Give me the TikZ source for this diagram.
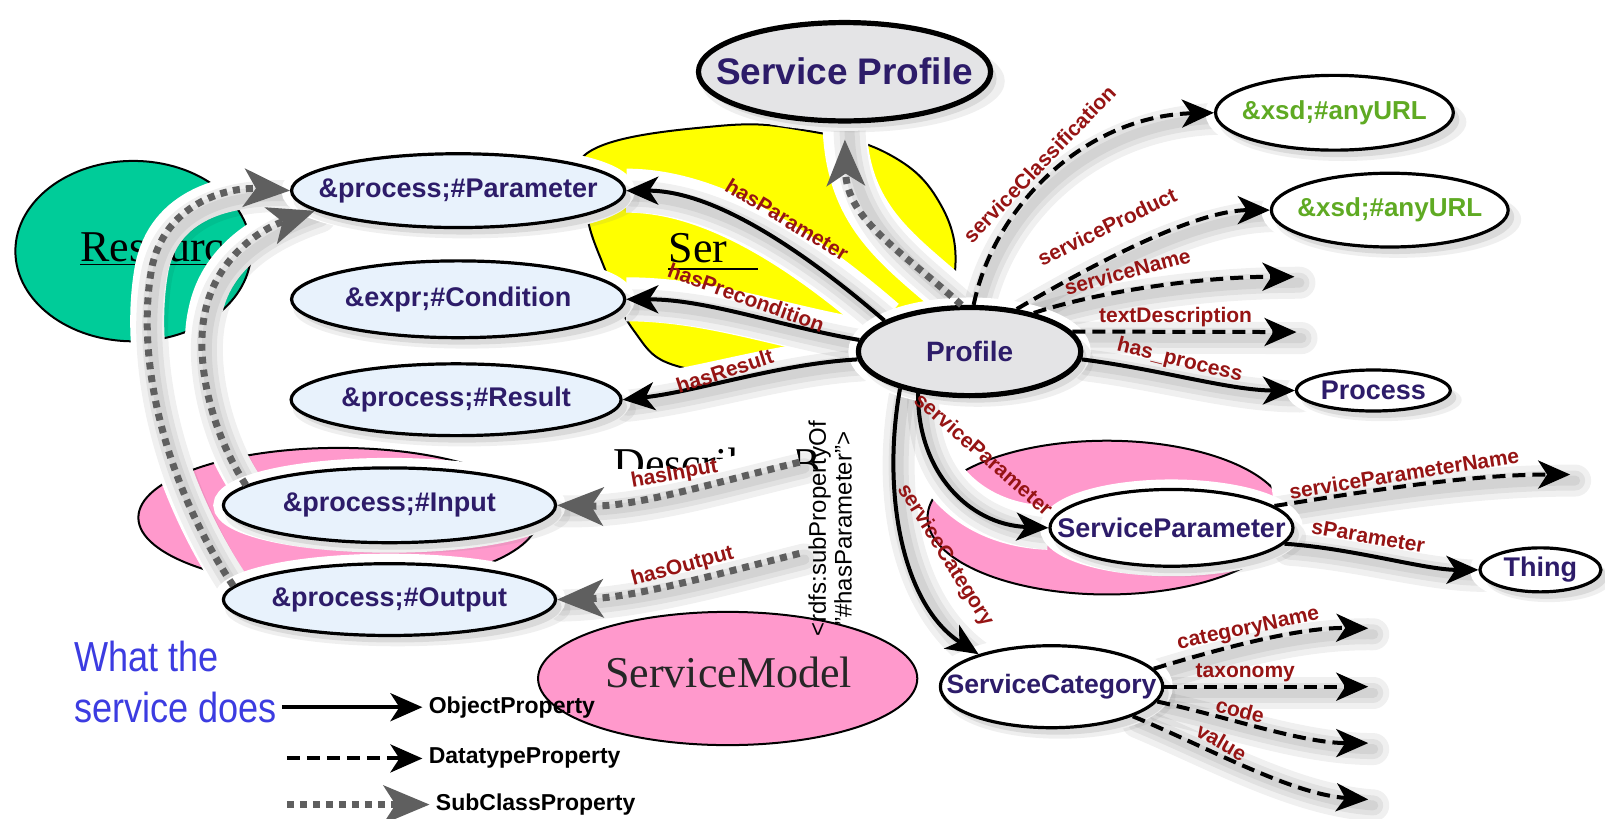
\documentclass[tikz,border=0pt]{standalone}
\usepackage{fontspec}
\setmainfont{Liberation Sans}
\newfontfamily\serifz{Liberation Serif}
\newfontfamily\narrowz[FakeStretch=0.86]{Liberation Sans}
\usetikzlibrary{arrows.meta,shapes.geometric,shadows}
\pgfdeclarelayer{blobs}
\pgfdeclarelayer{halos}
\pgfdeclarelayer{front}
\pgfsetlayers{blobs,halos,main,front}
\definecolor{navy}{RGB}{45,28,105}
\definecolor{lblred}{RGB}{150,20,20}
\definecolor{urlgreen}{RGB}{95,170,35}
\definecolor{lblue}{RGB}{232,242,252}
\definecolor{lgray}{RGB}{228,228,230}
\definecolor{blobgreen}{RGB}{0,204,153}
\definecolor{blobpink}{RGB}{255,153,204}
\definecolor{blobyellow}{RGB}{255,255,0}
\definecolor{wblue}{RGB}{60,60,225}
\definecolor{subgray}{RGB}{95,95,95}
\begin{document}
\begin{tikzpicture}[x=0.5125pt,y=-0.5125pt,
  ell/.style={ellipse, draw=black, line width=1.6pt, inner sep=0pt,
    preaction={draw=white, line width=10pt},
    drop shadow={opacity=0.12, shadow xshift=4pt, shadow yshift=-4.5pt, shadow scale=1.04},
    drop shadow={opacity=0.18, shadow xshift=3pt, shadow yshift=-3.5pt}},
  ntext/.style={text=navy, inner sep=0pt, font=\bfseries\fontsize{13.5}{15}\selectfont},
  utext/.style={text=urlgreen, inner sep=0pt, font=\bfseries\fontsize{13}{15}\selectfont},
  objarr/.style={line width=2pt, draw=black, -{Stealth[length=16pt,width=14pt,inset=4.5pt]}},
  datarr/.style={line width=2pt, draw=black, dash pattern=on 6.5pt off 3.5pt, -{Stealth[length=16pt,width=14pt,inset=4.5pt]}},
  subarr/.style={line width=3.5pt, draw=subgray, dash pattern=on 3.5pt off 3pt, -{Stealth[length=23pt,width=19pt,inset=6pt]}},
  haloline/.style={draw=white, line width=22pt},
  subhalo/.style={draw=white, line width=17pt},
  shb/.style={draw=black, opacity=0.06, line width=#1, line cap=round, transform canvas={shift={(2.5pt,-3pt)}}},
  lbl/.style={text=lblred, inner sep=0pt, font=\bfseries\fontsize{10.5}{12}\selectfont},
  legtxt/.style={anchor=west, inner sep=0pt, font=\bfseries\fontsize{11.5}{13}\selectfont},
  blobline/.style={draw=black, line width=1pt},
  blobtxt/.style={inner sep=0pt, font=\serifz\fontsize{22}{24}\selectfont}
]
\useasboundingbox (0,0) rectangle (1566,799);

% ---------- background blobs ----------
\begin{pgfonlayer}{blobs}
\fill[white] (0,0) rectangle (1566,799);
\draw[blobline, fill=blobgreen] (130,245) ellipse [x radius=115, y radius=88];
\draw[blobline, fill=blobyellow] plot[smooth cycle, tension=0.7] coordinates
  {(575,148) (700,123) (790,128) (870,152) (918,200) (932,262) (910,315) (850,348) (745,360) (660,357) (618,322) (590,262) (572,205)};
\draw[blobline, fill=blobpink] (330,505) ellipse [x radius=195, y radius=68];
\draw[blobline, fill=blobpink] (1080,505) ellipse [x radius=175, y radius=75];
\draw[blobline, fill=blobpink] (710,662) ellipse [x radius=185, y radius=65];
\node[blobtxt, anchor=base west] (tres) at (78,255) {\underline{Resource}};
\node[blobtxt, anchor=base west] (tsp) at (652,256) {Ser};
\draw[line width=1pt] (652,262) -- (740,262);
\begin{scope}
  \clip (590,420) rectangle (800,457);
  \node[blobtxt, anchor=base west] (tdb) at (598,467) {DescribedBy};
\end{scope}
\node[blobtxt, anchor=base, text=black!85] (tsm) at (711,671) {ServiceModel};
\end{pgfonlayer}

% ---------- class ellipses ----------
\node[ell, fill=lgray, line width=2.6pt, minimum width=146.1pt, minimum height=49.2pt] (sprof) at (824,70) {};
\node[ell, fill=lblue, minimum width=166.6pt, minimum height=36.9pt] (par) at (447,186) {};
\node[ell, fill=lblue, minimum width=166.6pt, minimum height=38.4pt] (cond) at (447,292) {};
\node[ell, fill=lblue, minimum width=165pt, minimum height=35.9pt] (res) at (445,390) {};
\node[ell, fill=lblue, minimum width=166.1pt, minimum height=37.4pt] (inp) at (380,493) {};
\node[ell, fill=lblue, minimum width=166.1pt, minimum height=35.9pt] (outp) at (380,585) {};
\node[ell, fill=lgray, line width=2.6pt, minimum width=111.2pt, minimum height=44.1pt] (prof) at (946,343) {};
\node[ell, fill=white, minimum width=118.9pt, minimum height=37.4pt] (url1) at (1302,110) {};
\node[ell, fill=white, minimum width=118.4pt, minimum height=36.9pt] (url2) at (1356,205) {};
\node[ell, fill=white, minimum width=76.9pt, minimum height=20.5pt] (proc) at (1340,381) {};
\node[ell, fill=white, minimum width=121.5pt, minimum height=38.4pt] (spar) at (1143,515) {};
\node[ell, fill=white, minimum width=60.5pt, minimum height=22pt] (thing) at (1503,556) {};
\node[ell, fill=white, minimum width=111.2pt, minimum height=41pt] (scat) at (1026,670) {};

\node[ntext, font=\bfseries\fontsize{18.5}{20}\selectfont] (sprof-t) at (sprof) {Service Profile};
\node[ntext] (par-t) at (par) {\&process;\#Parameter};
\node[ntext] (cond-t) at (cond) {\&expr;\#Condition};
\node[ntext] (res-t) at (res) {\&process;\#Result};
\node[ntext] (inp-t) at (inp) {\&process;\#Input};
\node[ntext] (outp-t) at (outp) {\&process;\#Output};
\node[ntext, font=\bfseries\fontsize{14}{16}\selectfont] (prof-t) at (prof) {Profile};
\node[utext] (url1-t) at (url1) {\&xsd;\#anyURL};
\node[utext] (url2-t) at (url2) {\&xsd;\#anyURL};
\node[ntext] (proc-t) at (proc) {Process};
\node[ntext] (spar-t) at (spar) {ServiceParameter};
\node[ntext] (thing-t) at (thing) {Thing};
\node[ntext, font=\bfseries\fontsize{13.3}{15}\selectfont] (scat-t) at (scat) {ServiceCategory};

\node[rotate=90, align=center, inner sep=0pt, font=\fontsize{12}{12.8}\selectfont] (subp) at (810,516)
  {<rdfs:subPropertyOf\\"\#hasParameter">};

% free ends
\coordinate (snm) at (1263,270);
\coordinate (tdc) at (1265,324);
\coordinate (spn) at (1532,463);
\coordinate (cnm) at (1335,613);
\coordinate (txn) at (1335,670);
\coordinate (cde) at (1335,725);
\coordinate (vlu) at (1335,780);
\coordinate (hin) at (780,451);
\coordinate (hout) at (780,540);
\coordinate (lg1a) at (275,690);
\coordinate (lg2a) at (280,740);
\coordinate (lg3a) at (280,785);

% connector paths
\def\zzA{(prof.160) .. controls (790,250) and (700,186) .. (par.east)}
\def\zzB{(prof.174) .. controls (760,318) and (690,292) .. (cond.east)}
\def\zzC{(prof.184) .. controls (760,355) and (680,382) .. (res.east)}
\def\zzD{(prof.85) .. controls (970,200) and (1060,113) .. (url1.west)}
\def\zzE{(prof.42) .. controls (1080,250) and (1170,205) .. (url2.west)}
\def\zzF{(prof.31) .. controls (1080,282) and (1180,270) .. (snm)}
\def\zzG{(prof.11) -- (tdc)}
\def\zzH{(prof.-4) .. controls (1130,360) and (1200,381) .. (proc.west)}
\def\zzI{(prof.219) .. controls (895,460) and (945,512) .. (spar.west)}
\def\zzJ{(prof.208) .. controls (860,480) and (880,590) .. (scat.156)}
\def\zzK{(spar.-8) .. controls (1320,535) and (1390,556) .. (thing.west)}
\def\zzL{(spar.12) .. controls (1330,480) and (1430,463) .. (spn)}
\def\zzM{(scat.10) .. controls (1200,630) and (1270,612) .. (cnm)}
\def\zzN{(scat.east) -- (txn)}
\def\zzO{(scat.-8) .. controls (1200,700) and (1270,725) .. (cde)}
\def\zzP{(scat.-20) .. controls (1180,730) and (1260,775) .. (vlu)}
\def\zzQ{(prof.100) .. controls (880,245) and (826,215) .. (sprof.south)}
\def\zzR{(hin) .. controls (700,470) and (620,495) .. (inp.east)}
\def\zzS{(hout) .. controls (700,560) and (620,583) .. (outp.east)}
\def\zzT{(outp.175) .. controls (160,470) and (132,350) .. (148,262) .. controls (160,200) and (220,182) .. (par.west)}
\def\zzU{(inp.172) .. controls (205,420) and (190,350) .. (200,305) .. controls (210,255) and (250,225) .. (par.188)}
\def\zzShadow#1{\draw[shb=16pt] #1; \draw[shb=10pt] #1; \draw[shb=5pt] #1;}

\begin{pgfonlayer}{halos}
\draw[haloline] \zzA; \draw[haloline] \zzB; \draw[haloline] \zzC;
\draw[haloline] \zzD; \draw[haloline] \zzE; \draw[haloline] \zzF;
\draw[haloline] \zzG; \draw[haloline] \zzH; \draw[haloline] \zzI;
\draw[haloline] \zzJ; \draw[haloline] \zzK; \draw[haloline] \zzL;
\draw[haloline] \zzM; \draw[haloline] \zzN; \draw[haloline] \zzO;
\draw[haloline] \zzP; \draw[haloline] \zzQ; \draw[haloline] \zzR;
\draw[haloline] \zzS; \draw[subhalo] \zzT; \draw[subhalo] \zzU;
\zzShadow\zzA \zzShadow\zzB \zzShadow\zzC \zzShadow\zzD \zzShadow\zzE
\zzShadow\zzF \zzShadow\zzG \zzShadow\zzH \zzShadow\zzI \zzShadow\zzJ
\zzShadow\zzK \zzShadow\zzL \zzShadow\zzM \zzShadow\zzN \zzShadow\zzO
\zzShadow\zzP \zzShadow\zzQ \zzShadow\zzR \zzShadow\zzS \zzShadow\zzT \zzShadow\zzU
\end{pgfonlayer}

\begin{pgfonlayer}{front}
% object properties
\draw[objarr] \zzA; \draw[objarr] \zzB; \draw[objarr] \zzC;
\draw[objarr] \zzH; \draw[objarr] \zzI; \draw[objarr] \zzJ; \draw[objarr] \zzK;
% datatype properties
\draw[datarr] \zzD; \draw[datarr] \zzE; \draw[datarr] \zzF; \draw[datarr] \zzG;
\draw[datarr] \zzL; \draw[datarr] \zzM; \draw[datarr] \zzN; \draw[datarr] \zzO; \draw[datarr] \zzP;
% subclass / subproperty
\draw[subarr, shorten >=8pt] \zzQ;
\draw[subarr] \zzR; \draw[subarr] \zzS; \draw[subarr] \zzT; \draw[subarr] \zzU;

% labels
\node[lbl, rotate=-31] (l1) at (768,214) {hasParameter};
\node[lbl, rotate=-20] (l2) at (728,290) {hasPrecondition};
\node[lbl, rotate=18] (l3) at (707,362) {hasResult};
\node[lbl, rotate=46] (l4) at (1014,160) {serviceClassification};
\node[lbl, rotate=26] (l5) at (1080,221) {serviceProduct};
\node[lbl, rotate=15] (l6) at (1100,265) {serviceName};
\node[lbl] (l7) at (1147,309) {textDescription};
\node[lbl, rotate=-14] (l8) at (1151,352) {has\_process};
\node[lbl, rotate=-41] (l9) at (960,443) {serviceParameter};
\node[lbl, rotate=-58] (l10) at (922,542) {serviceCategory};
\node[lbl, rotate=-10] (l11) at (1335,523) {sParameter};
\node[lbl, rotate=9] (l12) at (1370,462) {serviceParameterName};
\node[lbl, rotate=12] (l13) at (1218,614) {categoryName};
\node[lbl] (l14) at (1215,656) {taxonomy};
\node[lbl, rotate=-15] (l15) at (1210,693) {code};
\node[lbl, rotate=-30] (l16) at (1192,724) {value};
\node[lbl, rotate=10] (l17) at (658,463) {hasInput};
\node[lbl, rotate=15] (l18) at (666,553) {hasOutput};

% legend
\node[anchor=base west, text=wblue, inner sep=0pt, font=\narrowz\fontsize{21}{24}\selectfont] (wt1) at (72,655) {What the};
\node[anchor=base west, text=wblue, inner sep=0pt, font=\narrowz\fontsize{21}{24}\selectfont] (wt2) at (72,705) {service does};
\node[legtxt] (lg1) at (418,690) {ObjectProperty};
\node[legtxt] (lg2) at (418,740) {DatatypeProperty};
\node[legtxt] (lg3) at (425,785) {SubClassProperty};
\draw[objarr, shorten >=3pt] (lg1a) -- (lg1.west);
\draw[datarr, shorten >=3pt] (lg2a) -- (lg2.west);
\draw[subarr, shorten >=3pt] (lg3a) -- (lg3.west);
\end{pgfonlayer}
\end{tikzpicture}
\end{document}
